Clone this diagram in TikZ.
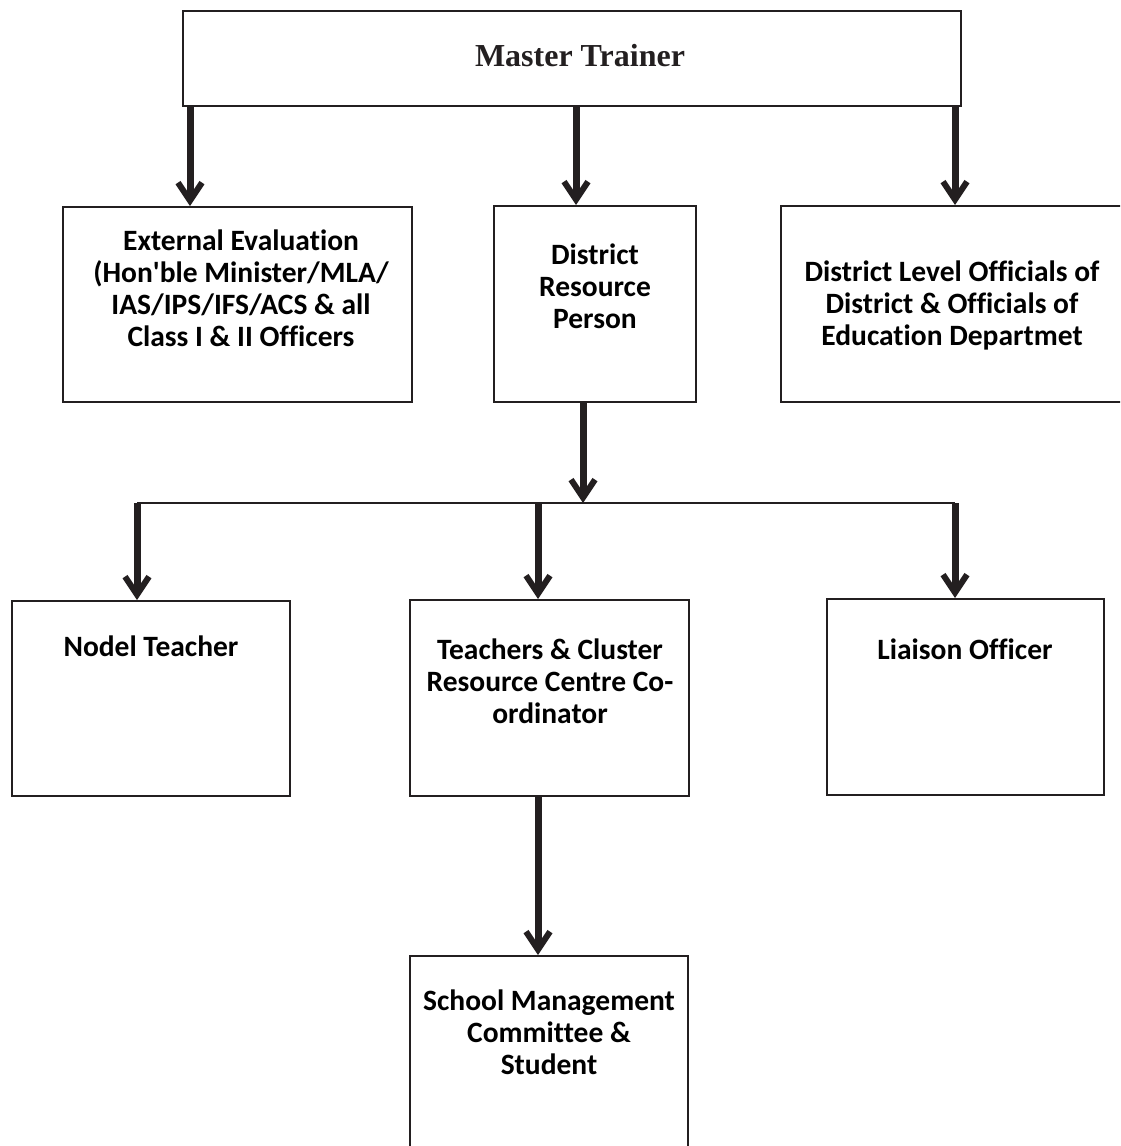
\documentclass[tikz,border=0pt]{standalone}
\usepackage{fontspec}
\setmainfont[Ligatures={NoCommon}]{Carlito}
\newfontfamily\serifbold{Liberation Serif}
\usetikzlibrary{arrows.meta}
\definecolor{ink}{HTML}{231F20}
\begin{document}
\begin{tikzpicture}[x=1pt,y=-1pt,
  box/.style={draw=ink, line width=2pt, inner sep=0pt, fill=none},
  lbl/.style={inner sep=0pt, align=center, anchor=base, text=black,
    font=\fontsize{29.5}{32}\selectfont\bfseries},
  arr/.style={draw=ink, line width=7pt, -{Straight Barb[length=18pt,width=24pt,line width=6pt]}},
  bus/.style={draw=ink, line width=2pt}]
\useasboundingbox (0,0) rectangle (1120,1146);
\begin{scope}
\clip (0,0) rectangle (1120,1146);
% boxes
\node[box, minimum width=778pt, minimum height=95pt] (master) at (572,58.5) {};
\node[box, minimum width=349pt, minimum height=195pt] (ext) at (237.5,304.5) {};
\node[box, minimum width=202pt, minimum height=196pt] (drp) at (595,304) {};
\node[box, minimum width=344pt, minimum height=196pt] (dlo) at (953,304) {};
\node[box, minimum width=278pt, minimum height=195pt] (nodel) at (151,698.5) {};
\node[box, minimum width=279pt, minimum height=196pt] (tcc) at (549.5,698) {};
\node[box, minimum width=277pt, minimum height=196pt] (liaison) at (965.5,697) {};
\node[box, minimum width=278pt, minimum height=196pt] (school) at (549,1054) {};
\end{scope}
% labels (base anchor = baseline of the last line)
\node[inner sep=0pt, anchor=base, font=\serifbold\fontsize{32}{38}\selectfont\bfseries, text=ink] (tmaster) at (580,66) {Master Trainer};
\node[lbl] (text) at (241,346) {External Evaluation\\(Hon\textquotesingle ble Minister/MLA/\\IAS/IPS/IFS/ACS \& all\\Class I \& II Officers};
\node[lbl] (tdrp) at (595,328) {District\\Resource\\Person};
\node[lbl] (tdlo) at (952,345) {District Level Officials of\\District \& Officials of\\Education Departmet};
\node[lbl] (tnodel) at (151,656) {Nodel Teacher};
\node[lbl] (ttcc) at (550,723) {Teachers \& Cluster\\Resource Centre Co-\\ordinator};
\node[lbl] (tliaison) at (965,659) {Liaison Officer};
\node[lbl] (tschool) at (549,1074) {School Management\\Committee \&\\Student};
% coordinates
\coordinate (xa) at (190,0);
\coordinate (xb) at (576,0);
\coordinate (xc) at (955,0);
\coordinate (xd) at (583,0);
\coordinate (xe) at (137,0);
\coordinate (xf) at (538,0);
\coordinate (busl) at (137,503);
\coordinate (busr) at (955,503);
% connectors
\draw[arr] (master.south -| xa) -- (ext.north -| xa);
\draw[arr] (master.south -| xb) -- (drp.north -| xb);
\draw[arr] (master.south -| xc) -- (dlo.north -| xc);
\draw[bus] (busl) -- (busr);
\draw[arr] (drp.south -| xd) -- (busl -| xd);
\draw[arr] (busl) -- (nodel.north -| xe);
\draw[arr] (busl -| xf) -- (tcc.north -| xf);
\draw[arr] (busr) -- (liaison.north -| xc);
\draw[arr] (tcc.south -| xf) -- (school.north -| xf);
\end{tikzpicture}
\end{document}
